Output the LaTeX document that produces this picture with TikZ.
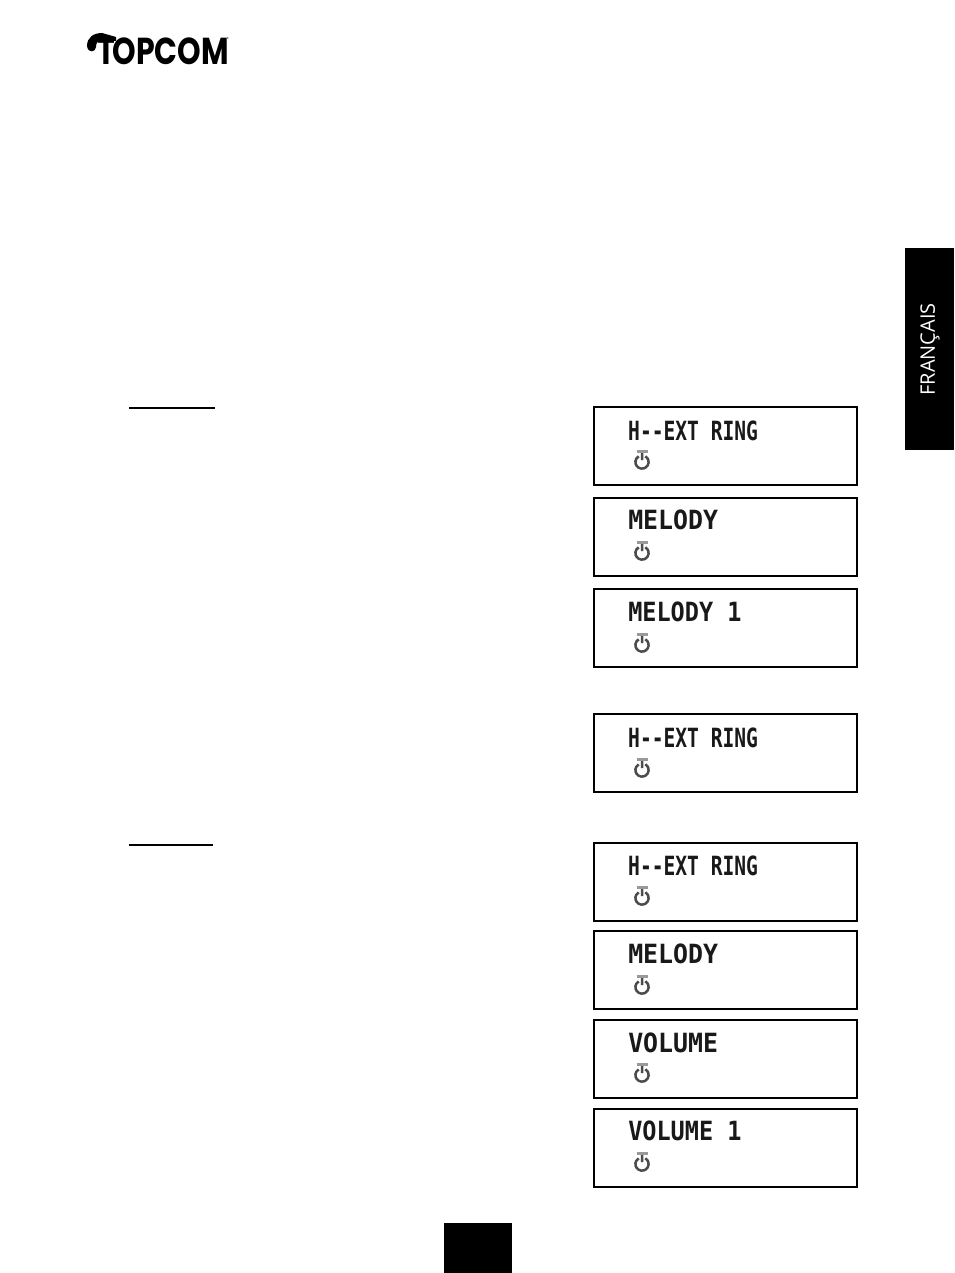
\documentclass[tikz,border=0pt]{standalone}
\usepackage{fontspec}
\setmainfont{DejaVu Sans Mono}
\newfontfamily\tabfont{Open Sans}
\newfontfamily\logofont{Poppins}
\usepackage{tikz}
\def\powerring{++(3.3,-5.7) arc (-60:240:6.6)}
\def\powerstem{++(0,-10) -- ++(0,8)}
\def\powerbar{++(-5.5,-11) -- ++(11,0)}
\tikzset{
    lcdbox/.style={draw=black, line width=2.3pt, fill=white, minimum width=263.2pt, minimum height=77.7pt, inner sep=0pt, anchor=north west},
    lcdtext/.style={font=\bfseries\fontsize{19.6}{20}\selectfont, text=black!90, yscale=1.35, inner sep=0pt, anchor=west},
    iconline/.style={draw=black!70, line width=2.5pt},
    iconbar/.style={draw=black!40, line width=3pt},
    blackblock/.style={fill=black, draw=none, inner sep=0pt, anchor=north west},
    headrule/.style={draw=black, line width=2pt}
}
\begin{document}
\begin{tikzpicture}[x=1pt,y=-1pt]
    \useasboundingbox (0,0) rectangle (954,1273);
    % logo
    \node[font=\logofont\bfseries\fontsize{30}{30}\selectfont, yscale=1.25, inner sep=0pt, anchor=east] (logo) at (229,51) {T\kern-3pt OPCOM};
    \fill (87,46) .. controls (87,37) and (94,33) .. (102,33) -- (116,37) -- (116,41) -- (102,40) .. controls (98,40) and (96,43) .. (96,47) .. controls (96,52) and (88,54) .. (87,46) -- cycle;
    \node[font=\logofont\fontsize{4}{4}\selectfont, inner sep=0pt] (reg) at (228,39) {®};
    % tab
    \node[blackblock, minimum width=49pt, minimum height=202pt] (tab) at (905,248) {};
    \node[font=\tabfont\fontsize{20}{20}\selectfont, text=white, rotate=90, inner sep=0pt] (lang) at (930,349.5) {FRANÇAIS};
    % page number block
    \node[blackblock, minimum width=68pt, minimum height=50pt] (page) at (444,1223) {};
    % underlined headings
    \draw[headrule] (129,408) -- (215,408);
    \draw[headrule] (129,845) -- (213,845);
    % first group
    \node[lcdbox] (a1) at (592.5,406) {};
    \node[lcdbox] (a2) at (592.5,497) {};
    \node[lcdbox] (a3) at (592.5,588) {};
    \node[lcdbox] (a4) at (592.5,713) {};
    % second group
    \node[lcdbox] (b1) at (592.5,842) {};
    \node[lcdbox] (b2) at (592.5,930) {};
    \node[lcdbox] (b3) at (592.5,1019) {};
    \node[lcdbox] (b4) at (592.5,1108) {};
    % display texts
    \node[lcdtext] (ta1) at (628,431) {H{-}{-}EXT RING};
    \node[lcdtext, xscale=1.27] (ta2) at (628,520) {MELODY};
    \node[lcdtext, xscale=1.2] (ta3) at (628,612) {MELODY 1};
    \node[lcdtext] (ta4) at (628,738) {H{-}{-}EXT RING};
    \node[lcdtext] (tb1) at (628,866) {H{-}{-}EXT RING};
    \node[lcdtext, xscale=1.27] (tb2) at (628,954) {MELODY};
    \node[lcdtext, xscale=1.27] (tb3) at (628,1043) {VOLUME};
    \node[lcdtext, xscale=1.2] (tb4) at (628,1131) {VOLUME 1};
    % power icons
    \draw[iconline] (642,462) \powerring (642,462) \powerstem;
    \draw[iconline] (642,553) \powerring (642,553) \powerstem;
    \draw[iconline] (642,645) \powerring (642,645) \powerstem;
    \draw[iconline] (642,770) \powerring (642,770) \powerstem;
    \draw[iconline] (642,898) \powerring (642,898) \powerstem;
    \draw[iconline] (642,987) \powerring (642,987) \powerstem;
    \draw[iconline] (642,1075) \powerring (642,1075) \powerstem;
    \draw[iconline] (642,1164) \powerring (642,1164) \powerstem;
    \draw[iconbar] (642,462) \powerbar;
    \draw[iconbar] (642,553) \powerbar;
    \draw[iconbar] (642,645) \powerbar;
    \draw[iconbar] (642,770) \powerbar;
    \draw[iconbar] (642,898) \powerbar;
    \draw[iconbar] (642,987) \powerbar;
    \draw[iconbar] (642,1075) \powerbar;
    \draw[iconbar] (642,1164) \powerbar;
\end{tikzpicture}
\end{document}
